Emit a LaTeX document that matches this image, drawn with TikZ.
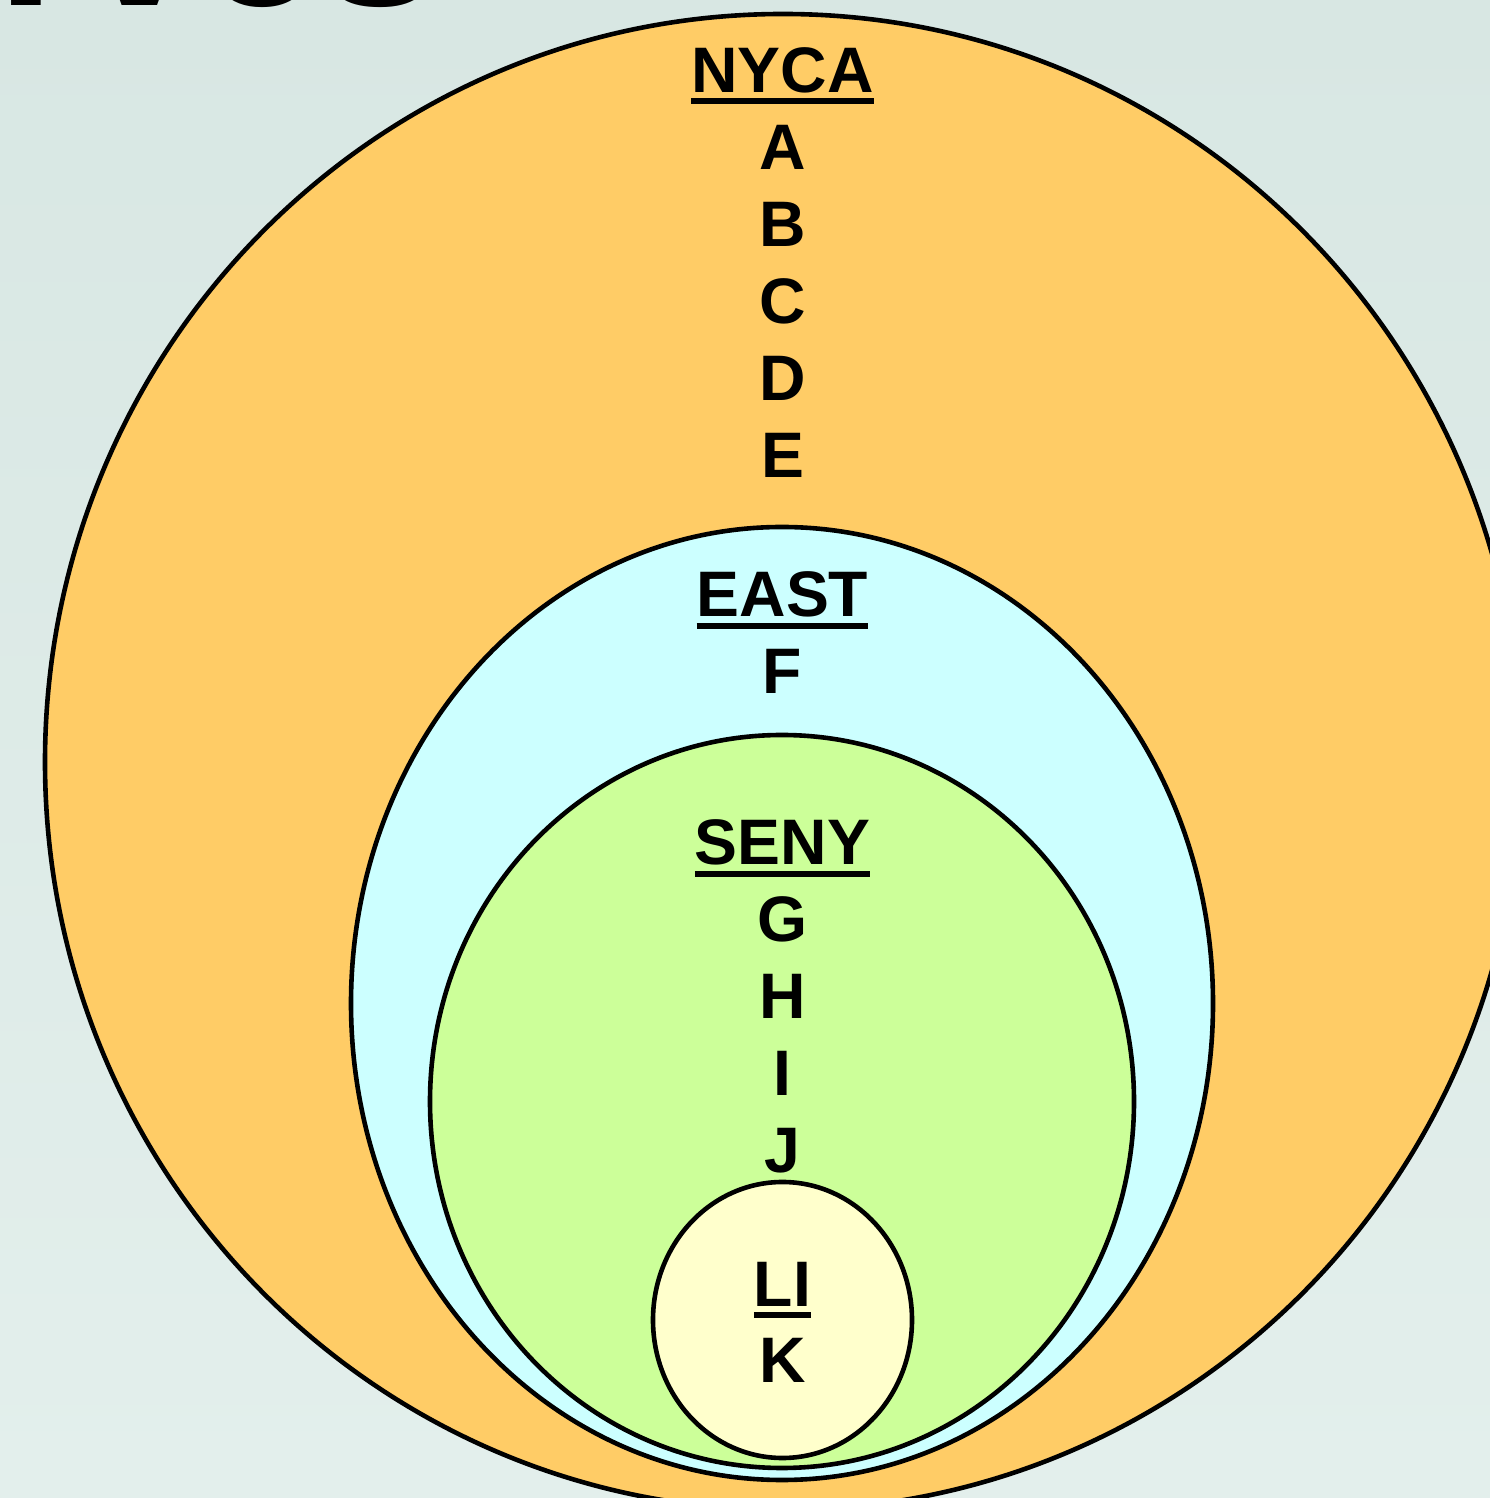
\documentclass[tikz,border=0pt]{standalone}
\usepackage{fontspec}
\setmainfont{Liberation Sans}
\definecolor{bgtop}{HTML}{D8E7E3}
\definecolor{bgbot}{HTML}{E3EFEC}
\definecolor{nycafill}{HTML}{FFCC66}
\definecolor{eastfill}{HTML}{CCFFFF}
\definecolor{senyfill}{HTML}{CCFF99}
\definecolor{lifill}{HTML}{FFFFCC}
% heading with a heavy rule under it
\newcommand{\zonehead}[1]{\setbox0\hbox{#1}\rlap{\rule[-3.3pt]{\wd0}{1.7pt}}\box0}
\tikzset{
  region/.style={draw=black, line width=0.046cm},
  zonetext/.style={anchor=base, inner sep=0pt, font=\fontsize{18.3pt}{22pt}\selectfont\bfseries},
}
\begin{document}
\begin{tikzpicture}
\useasboundingbox (0,0) rectangle (14.90,14.98);
\clip (0,0) rectangle (14.90,14.98);
% backdrop
\shade[top color=bgtop, bottom color=bgbot] (0,0) rectangle (14.90,14.98);
% slide title, mostly above the frame
\node[anchor=base west, inner sep=0pt, font=\fontsize{61.4pt}{70pt}\selectfont\bfseries] (title) at (-0.04,14.92) {rves};
% nested reserve regions
\draw[region, fill=nycafill] (7.83,7.36) ellipse [x radius=7.38, y radius=7.48];
\draw[region, fill=eastfill] (7.82,4.945) ellipse [x radius=4.31, y radius=4.765];
\draw[region, fill=senyfill] (7.82,3.965) ellipse [x radius=3.52, y radius=3.665];
\draw[region, fill=lifill] (7.825,1.78) ellipse [x radius=1.295, y radius=1.38];
% NYCA
\node[zonetext] (nyca) at (7.825,14.053) {\zonehead{NYCA}};
\node[zonetext] (a) at (7.825,13.283) {A};
\node[zonetext] (b) at (7.825,12.513) {B};
\node[zonetext] (c) at (7.825,11.743) {C};
\node[zonetext] (d) at (7.825,10.973) {D};
\node[zonetext] (e) at (7.825,10.203) {E};
% EAST
\node[zonetext] (east) at (7.825,8.81) {\zonehead{EAST}};
\node[zonetext] (f) at (7.825,8.04) {F};
% SENY
\node[zonetext] (seny) at (7.825,6.33) {\zonehead{SENY}};
\node[zonetext] (g) at (7.825,5.56) {G};
\node[zonetext] (h) at (7.825,4.79) {H};
\node[zonetext] (i) at (7.825,4.02) {I};
\node[zonetext] (j) at (7.825,3.25) {J};
% LI
\node[zonetext] (li) at (7.825,1.913) {\zonehead{LI}};
\node[zonetext] (k) at (7.825,1.15) {K};
\end{tikzpicture}
\end{document}
